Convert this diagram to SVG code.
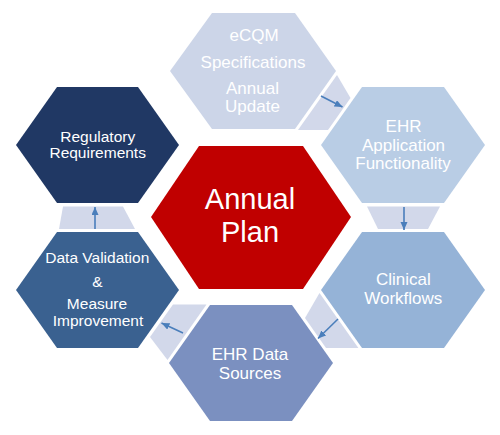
<svg xmlns="http://www.w3.org/2000/svg" width="500" height="435" viewBox="0 0 500 435">
<defs>
<style>
text{font-family:"Liberation Sans",Arial,sans-serif;fill:#ffffff;text-anchor:middle}
.t17{font-size:17px}
.t15{font-size:15.5px}
.big{font-size:29px}
.conn{fill:#d2d8ea;stroke:none}
.arr{stroke:#4a7ebb;stroke-width:1.6;fill:none;marker-end:url(#ah)}
</style>
<marker id="ah" markerUnits="userSpaceOnUse" markerWidth="9" markerHeight="8" refX="8" refY="3.5" orient="auto">
<path d="M0,0 L8,3.5 L0,7 z" fill="#4a7ebb"/>
</marker>
</defs>
<rect width="500" height="435" fill="#ffffff"/>
<g id="connectors">
<polygon class="conn" points="337,75 350.5,98 328,130 298,130"/>
<polygon class="conn" points="367,206.5 440,206.5 428,229 378,229"/>
<polygon class="conn" points="319.5,293 358.4,348 326,348 305,318"/>
<polygon class="conn" points="173,304.5 206.5,304.5 167.5,360 150,337"/>
<polygon class="conn" points="63,206.5 123,206.5 135,229 59,229"/>
<line class="arr" x1="321" y1="96" x2="342.5" y2="107"/>
<line class="arr" x1="404" y1="207" x2="404" y2="230"/>
<line class="arr" x1="338" y1="319" x2="318" y2="338.5"/>
<line class="arr" x1="183" y1="333" x2="161.5" y2="323"/>
<line class="arr" x1="95" y1="229" x2="95" y2="207"/>
</g>
<g id="node-ecqm">
<polygon points="170,71 212,13 295,13 336,71 295,129 212,129" fill="#ccd5e8"/>
<text class="t17" x="254" y="40.7">eCQM</text>
<text class="t17" x="253" y="67.7">Specifications</text>
<text class="t17" x="252.5" y="94.3">Annual</text>
<text class="t17" x="252.5" y="112.3">Update</text>
</g>
<g id="node-ehr-app">
<polygon points="321,145 362,87 444,87 485,145 444,203 362,203" fill="#b9cde5"/>
<text class="t17" x="403.5" y="131.7">EHR</text>
<text class="t17" x="403.5" y="151">Application</text>
<text class="t17" x="403" y="169.3">Functionality</text>
</g>
<g id="node-clinical">
<polygon points="321,290 362,232 444,232 485,290 444,348 362,348" fill="#95b3d7"/>
<text class="t17" x="403.3" y="285">Clinical</text>
<text class="t17" x="403.3" y="304">Workflows</text>
</g>
<g id="node-ehr-data">
<polygon points="169,363 210,305 292,305 333,363 292,421 210,421" fill="#7b90c0"/>
<text class="t17" x="250" y="360">EHR Data</text>
<text class="t17" x="250" y="378.7">Sources</text>
</g>
<g id="node-data-validation">
<polygon points="16,290 57,232 138,232 179,290 138,348 57,348" fill="#3a6190"/>
<text class="t15" x="97.3" y="263.3">Data Validation</text>
<text class="t15" x="97.3" y="286.7">&amp;</text>
<text class="t15" x="97" y="309">Measure</text>
<text class="t15" x="98" y="326">Improvement</text>
</g>
<g id="node-regulatory">
<polygon points="16,145 57,87 138,87 179,145 138,203 57,203" fill="#203864"/>
<text class="t15" x="97.7" y="141.7">Regulatory</text>
<text class="t15" x="97.7" y="157.7">Requirements</text>
</g>
<g id="node-annual-plan">
<polygon points="151,217 199,146 303,146 351,217 303,289 199,289" fill="#c00000"/>
<text class="big" x="250" y="209.3">Annual</text>
<text class="big" x="250" y="241.7">Plan</text>
</g>
</svg>
